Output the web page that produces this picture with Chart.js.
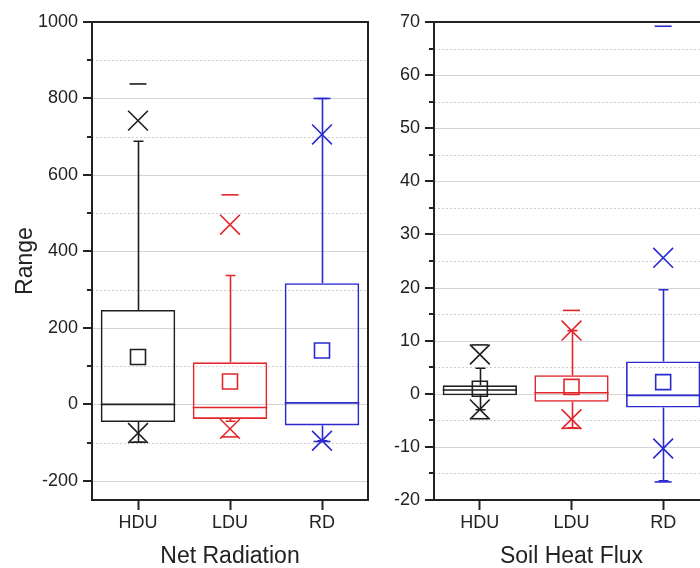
<!DOCTYPE html>
<html>
<head>
<meta charset="utf-8">
<script src="https://cdn.jsdelivr.net/npm/chart.js@4.4.0/dist/chart.umd.min.js"></script>
<style>
    html, body { margin: 0; padding: 0; background: #fff; width: 700px; height: 568px; overflow: hidden; }
    canvas { position: absolute; top: 0; }
    #nrChart { left: 0; }
    #shfChart { left: 372px; }
</style>
</head>
<body>
<canvas id="nrChart" width="372" height="568"></canvas>
<canvas id="shfChart" width="345" height="568"></canvas>
<script>
const groups = ['HDU', 'LDU', 'RD'];
const groupColors = ['#1e1e1e', '#e3262b', '#2a2ad0'];

// Net Radiation
const nrMin = [-99, -85, -97];
const nrP1 = [-75, -64, -95];
const nrWhiskerLow = [-99, -44, -95];
const nrQ1 = [-46, -38, -55];
const nrMedian = [0, -8, 4];
const nrMean = [124, 60, 141];
const nrQ3 = [247, 110, 317];
const nrWhiskerHigh = [688, 337, 800];
const nrP99 = [742, 470, 706];
const nrMax = [838, 548, 800];

// Soil Heat Flux
const shfMin = [-4.7, -6.5, -16.6];
const shfP1 = [-2.95, -4.8, -10.3];
const shfWhiskerLow = [-3, -6.4, -16.4];
const shfQ1 = [-0.3, -1.5, -2.6];
const shfMedian = [0.7, 0.2, -0.3];
const shfMean = [0.95, 1.3, 2.2];
const shfQ3 = [1.6, 3.5, 6.1];
const shfWhiskerHigh = [4.8, 11.9, 19.6];
const shfP99 = [7.4, 11.9, 25.6];
const shfMax = [9.2, 15.7, 69.2];

// y tick labels
const nrTicks = [-200, 0, 200, 400, 600, 800, 1000];
const shfTicks = [-20, -10, 0, 10, 20, 30, 40, 50, 60, 70];

const FONT = "'Liberation Sans', Arial, sans-serif";
const INK = '#222';

// gridlines, whiskers, medians, frame and y tick marks
const boxExtras = {
    id: 'boxExtras',
    beforeDatasetsDraw(chart, args, opts) {
        const { ctx, chartArea: a, scales: { y } } = chart;
        ctx.save();
        ctx.lineWidth = 1;
        const start = Math.ceil(y.min / opts.minor);
        const end = Math.floor(y.max / opts.minor);
        for (let k = start; k <= end; k++) {
            const v = k * opts.minor;
            if (v <= y.min || v >= y.max) continue;
            const py = Math.round(y.getPixelForValue(v)) + 0.5;
            const major = v % opts.major === 0;
            ctx.strokeStyle = major ? '#d4d4d4' : '#cfcfcf';
            ctx.setLineDash(major ? [] : [2, 2]);
            ctx.beginPath();
            ctx.moveTo(a.left, py);
            ctx.lineTo(a.right, py);
            ctx.stroke();
        }
        ctx.setLineDash([]);

        // whiskers and medians
        const bars = chart.getDatasetMeta(0).data;
        const s = opts.stats;
        ctx.lineWidth = 1.6;
        bars.forEach((bar, i) => {
            const cx = Math.round(bar.x) + 0.5;
            const half = bar.width / 2;
            ctx.strokeStyle = groupColors[i];
            ctx.beginPath();
            ctx.moveTo(cx, y.getPixelForValue(s.q3[i]));
            ctx.lineTo(cx, y.getPixelForValue(s.whHigh[i]));
            ctx.moveTo(cx, y.getPixelForValue(s.q1[i]));
            ctx.lineTo(cx, y.getPixelForValue(s.whLow[i]));
            [s.whHigh[i], s.whLow[i]].forEach(v => {
                const py = y.getPixelForValue(v);
                ctx.moveTo(cx - 5, py);
                ctx.lineTo(cx + 5, py);
            });
            const pm = y.getPixelForValue(s.median[i]);
            ctx.moveTo(bar.x - half, pm);
            ctx.lineTo(bar.x + half, pm);
            ctx.stroke();
        });
        ctx.restore();
    },
    afterDraw(chart, args, opts) {
        const { ctx, chartArea: a, scales: { y } } = chart;
        ctx.save();
        ctx.strokeStyle = INK;
        ctx.lineWidth = 2;
        ctx.strokeRect(a.left, a.top, a.right - a.left, a.bottom - a.top);
        const start = Math.ceil(y.min / opts.minor);
        const end = Math.floor(y.max / opts.minor);
        ctx.beginPath();
        for (let k = start; k <= end; k++) {
            const v = k * opts.minor;
            const py = Math.round(y.getPixelForValue(v));
            const len = v % opts.major === 0 ? 9 : 5;
            ctx.moveTo(a.left, py);
            ctx.lineTo(a.left - len, py);
        }
        ctx.stroke();
        ctx.restore();
    }
};

function pointSet(data, style, radius) {
    return {
        type: 'line',
        data: data,
        showLine: false,
        pointStyle: style,
        pointRadius: radius,
        pointBorderWidth: 1.6,
        pointBorderColor: groupColors,
        pointBackgroundColor: 'rgba(0,0,0,0)'
    };
}

function makeChart(id, s, yMin, yMax, tickVals, minor, major, xTitle, yTitle, axisWidth, padRight) {
    return new Chart(document.getElementById(id), {
        type: 'bar',
        data: {
            labels: groups,
            datasets: [
                {
                    data: s.q1.map((v, i) => [v, s.q3[i]]),
                    backgroundColor: 'rgba(0,0,0,0)',
                    borderColor: groupColors,
                    borderWidth: 1.6,
                    borderSkipped: false,
                    barPercentage: 1,
                    categoryPercentage: 0.81
                },
                pointSet(s.mean, 'rect', 10.6),
                pointSet(s.p1, 'crossRot', 14),
                pointSet(s.p99, 'crossRot', 14),
                pointSet(s.min, 'line', 8.5),
                pointSet(s.max, 'line', 8.5)
            ]
        },
        options: {
            responsive: false,
            animation: false,
            events: [],
            layout: { autoPadding: false, padding: { top: 22, right: padRight, left: 0, bottom: 0 } },
            plugins: {
                legend: { display: false },
                tooltip: { enabled: false },
                boxExtras: { minor: minor, major: major, stats: s }
            },
            scales: {
                x: {
                    type: 'category',
                    offset: true,
                    grid: { display: true, drawOnChartArea: false, drawTicks: true, tickLength: 10, tickColor: INK, tickWidth: 2, offset: false },
                    border: { display: false },
                    ticks: { color: INK, font: { family: FONT, size: 18 }, padding: 2 },
                    title: { display: true, text: xTitle, color: INK, font: { family: FONT, size: 23, lineHeight: 1 }, padding: { top: 0, bottom: 0 } },
                    afterFit: sc => { sc.height = 68; sc.paddingLeft = 0; sc.paddingRight = 0; }
                },
                y: {
                    min: yMin,
                    max: yMax,
                    grid: { display: false, drawTicks: false },
                    border: { display: false },
                    ticks: { padding: 14, color: INK, font: { family: FONT, size: 18 }, autoSkip: false, callback: v => String(v) },
                    afterBuildTicks: sc => { sc.ticks = tickVals.map(v => ({ value: v })); },
                    title: { display: !!yTitle, text: yTitle, color: INK, font: { family: FONT, size: 23, lineHeight: 1.2 }, padding: { top: 12, bottom: 0 } },
                    afterFit: sc => { sc.width = axisWidth; sc.paddingTop = 0; sc.paddingBottom = 0; }
                }
            }
        },
        plugins: [boxExtras]
    });
}

makeChart('nrChart', {
    min: nrMin, p1: nrP1, whLow: nrWhiskerLow, q1: nrQ1, median: nrMedian,
    mean: nrMean, q3: nrQ3, whHigh: nrWhiskerHigh, p99: nrP99, max: nrMax
}, -250, 1000, nrTicks, 100, 200, 'Net Radiation', 'Range', 92, 4);

makeChart('shfChart', {
    min: shfMin, p1: shfP1, whLow: shfWhiskerLow, q1: shfQ1, median: shfMedian,
    mean: shfMean, q3: shfQ3, whHigh: shfWhiskerHigh, p99: shfP99, max: shfMax
}, -20, 70, shfTicks, 5, 10, 'Soil Heat Flux', '', 62, 8);
</script>
</body>
</html>
